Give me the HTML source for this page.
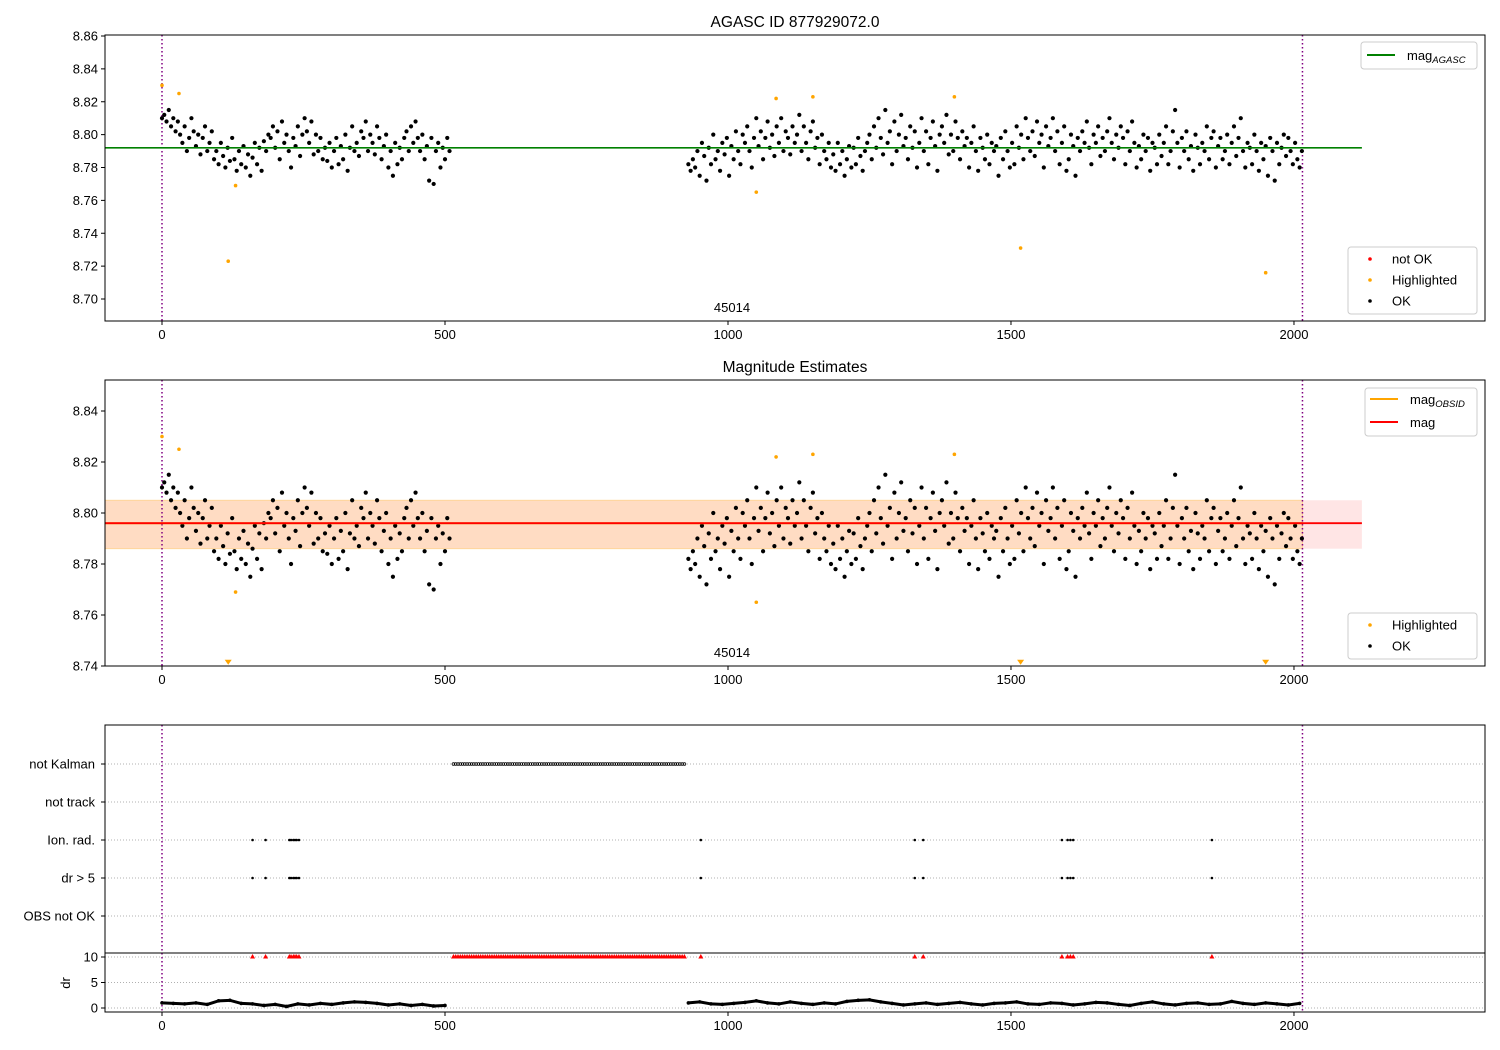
<!DOCTYPE html>
<html><head><meta charset="utf-8">
<style>
html,body{margin:0;padding:0;background:#fff;}
svg{display:block;font-family:"Liberation Sans","DejaVu Sans",sans-serif;}
</style></head>
<body>
<svg id="fig" width="1500" height="1050" viewBox="0 0 1500 1050" xmlns="http://www.w3.org/2000/svg"></svg>
<script>
// ---------- DATA ----------
const seg1Range = [0, 508];
const seg2Range = [930, 2014];
const sampleStep = 4;
const magBase = 8.79;
const okMilliSeg1 = [20,22,18,25,15,20,12,18, 10,5,15,0,8,20,12,3, 10,-2,8,15,0,5,12,-5, 0,-8,5,-3,-10,2,-6,8,
 -5,-12,0,-8,3,-10,-2,-15, -4,5,-8,2,-12,6,0,10, 8,15,2,12,-5,18,5,10, 0,-10,8,3,15,-3,10,20,
 12,5,18,-2,10,0,8,-5, 2,-6,5,-10,0,8,-8,3, -5,10,-12,2,15,0,5,-3, 12,8,18,0,10,5,-2,15,
 8,-5,3,10,-10,0,-15,5, -8,2,-5,8,12,0,15,5, 18,8,0,10,-5,3,-18,8, -20,0,5,-10,2,-5,8,0];
const okMilliSeg2 = [-8,-12,-5,-10,0,-15,5,-3, -18,2,-8,10,-5,0,-12,5, -2,8,-15,3,-5,12,0,-8, 10,5,15,0,-10,8,20,3,
 12,-5,8,18,2,10,-3,15, 5,20,0,12,8,-2,15,5, 10,22,0,15,5,-5,12,18, 2,8,-8,10,0,-5,5,-10,
 -2,-12,5,-8,0,-15,-5,3, -10,2,-8,8,-3,-12,0,5, 10,-5,15,2,20,8,-2,25, 5,12,-8,18,0,10,22,3,
 8,-5,15,2,12,-10,5,20, 0,12,-8,8,18,3,-12,10, 15,5,22,-2,10,0,18,8, -5,12,3,8,-10,5,15,0,
 -12,8,2,-5,10,-8,5,0, 3,-15,8,-5,12,0,-10,5, -8,15,2,10,-5,20,8,0, 12,-3,18,5,10,-10,15,3,
 8,20,0,12,-8,5,15,-12, -5,10,3,-15,8,0,12,5, 18,2,-8,10,5,15,-3,8, 0,12,20,5,-5,10,2,15,
 8,-8,12,0,18,5,-10,3, -5,10,0,8,-12,5,2,-8, 10,-3,5,15,-8,0,12,25, 5,-10,8,0,12,-5,3,-12,
 10,2,-8,5,0,15,-5,8, 12,-10,3,8,-5,0,10,-8, 5,15,-3,8,20,0,-10,5, 2,-8,10,0,-12,5,-5,3,
 -15,8,0,-18,5,-8,2,10, -3,8,0,-8,5,-5,-10,0];
const hlTimes = [0,30,130,117,1050,1085,1150,1400,1517,1950];
const hlMags  = [8.830,8.825,8.769,8.723,8.765,8.822,8.823,8.823,8.731,8.716];
const magAgasc = 8.792;
const magObs = 8.796;
const magBandLo = 8.786, magBandHi = 8.805;
const obsStart = 0, obsEnd = 2015;
const lineEnd = 2120;
const notKalmanRange = [515, 925];
const ionTimes = [160,183,225,228,232,235,238,242,952,1330,1345,1590,1600,1605,1610,1855];
const drStep = 20;
const drSeg1 = [10,9,8,10,7,14,15,9,8,5,7,3,8,6,9,7,10,12,11,9,6,8,5,7,4,5];
const drSeg2 = [10,12,8,7,9,11,14,10,8,12,9,7,10,8,13,15,16,12,9,6,8,10,7,9,11,8,6,9,10,12,8,7,10,9,6,8,11,10,7,5,9,12,8,6,9,10,7,8,13,9,7,10,8,6,9];
const xTicks = [0,500,1000,1500,2000];
const yTicks1 = [8.70,8.72,8.74,8.76,8.78,8.80,8.82,8.84,8.86];
const yTicks2 = [8.74,8.76,8.78,8.80,8.82,8.84];
const flagCats = ["not Kalman","not track","Ion. rad.","dr > 5","OBS not OK"];
const drTicks = [0,5,10];

// ---------- helpers ----------
const NS="http://www.w3.org/2000/svg";
const svg=document.getElementById('fig');
function mk(tag,attrs,parent){const e=document.createElementNS(NS,tag);for(const k in attrs)e.setAttribute(k,attrs[k]);(parent||svg).appendChild(e);return e;}
function txt(s,x,y,attrs,parent){const t=mk('text',Object.assign({x:x,y:y,'font-size':13,fill:'#000'},attrs||{}),parent);t.textContent=s;return t;}
const X0=105,X1=1485,XMIN=-100.7,XMAX=2337.5;
const sx=v=>X0+(v-XMIN)/(XMAX-XMIN)*(X1-X0);
function lin(d0,d1,r0,r1){return v=>r0+(v-d0)/(d1-d0)*(r1-r0);}
function range(a,b,s){const r=[];for(let t=a;t<=b;t+=s)r.push(t);return r;}
const okTimes=range(seg1Range[0],seg1Range[1],sampleStep).concat(range(seg2Range[0],seg2Range[1],sampleStep));
const okMags=okMilliSeg1.concat(okMilliSeg2).map(v=>magBase+v/1000);
const DOT=2.1;

function xAxis(g,yb,labels){
  xTicks.forEach(t=>{
    const l=mk('line',{x1:sx(t),x2:sx(t),y1:yb,y2:yb+4,stroke:'#000'},g);
    
    
    if(labels){const tl=txt(String(t),sx(t),yb+18,{'text-anchor':'middle'},g);
      
      }
  });
}
function yAxis(g,ticks,sy,fmt){
  ticks.forEach(t=>{
    mk('line',{x1:X0-4,x2:X0,y1:sy(t),y2:sy(t),stroke:'#000'},g);
    const tl=txt(fmt(t),X0-7,sy(t)+4.5,{'text-anchor':'end'},g);
    
    
  });
}
function vlines(g,yt,yb){
  [obsStart,obsEnd].forEach(t=>{
    const l=mk('line',{x1:sx(t),x2:sx(t),y1:yt,y2:yb,stroke:'#800080','stroke-width':1.5,'stroke-dasharray':'1.5,2.5'},g);
    
    
  });
}
function dots(g,ts,vs,sy,color,r,name){
  ts.forEach((t,i)=>{
    const c=mk('circle',{cx:sx(t),cy:sy(vs[i]),r:r,fill:color},g);
    
    
  });
}
function frame(g,yt,yb){mk('rect',{x:X0,y:yt,width:X1-X0,height:yb-yt,fill:'none',stroke:'#000','stroke-width':1},g);}
function legendBox(g,x,y,w,h){mk('rect',{x:x,y:y,width:w,height:h,rx:3,fill:'#fff','fill-opacity':0.8,stroke:'#ccc'},g);}

// ---------- Panel 1 ----------
(function(){
  const g=mk('g',{});
  const yt=35,yb=321;
  const sy=lin(8.70,8.86,299,36);
  const t=txt('AGASC ID 877929072.0',795,27,{'text-anchor':'middle','font-size':15.5},g);
  
  const cp=mk('clipPath',{id:'c1'},g);mk('rect',{x:X0,y:yt,width:X1-X0,height:yb-yt},cp);
  const pg=mk('g',{'clip-path':'url(#c1)'},g);
  vlines(pg,yt,yb);
  dots(pg,okTimes,okMags,sy,'#000',DOT,'ok-point');
  dots(pg,hlTimes,hlMags,sy,'orange',1.8,'highlighted-point');
  const ml=mk('line',{x1:sx(XMIN),x2:sx(lineEnd),y1:sy(magAgasc),y2:sy(magAgasc),stroke:'green','stroke-width':1.6},pg);
  
  txt('45014',732,312,{'text-anchor':'middle'},g);
  frame(g,yt,yb);xAxis(g,yb,true);yAxis(g,yTicks1,sy,v=>v.toFixed(2));
  const lg=mk('g',{},g);
  legendBox(lg,1361,42,116,27);
  mk('line',{x1:1367,x2:1395,y1:55,y2:55,stroke:'green','stroke-width':2},lg);
  const le=txt('mag',1407,60,{},lg);const s=mk('tspan',{'font-size':9.5,dy:3},le);s.textContent='AGASC';
  s.setAttribute('font-style','italic');
  const lg2=mk('g',{},g);
  legendBox(lg2,1348,247,129,67);
  [['not OK','red',259],['Highlighted','orange',280],['OK','#000',301]].forEach(e=>{
    mk('circle',{cx:1370,cy:e[2],r:1.8,fill:e[1]},lg2);txt(e[0],1392,e[2]+4.5,{},lg2);
  });
})();

// ---------- Panel 2 ----------
(function(){
  const g=mk('g',{});
  const yt=380,yb=666;
  const sy=lin(8.74,8.84,666,411);
  const t=txt('Magnitude Estimates',795,372,{'text-anchor':'middle','font-size':15.5},g);
  
  const cp=mk('clipPath',{id:'c2'},g);mk('rect',{x:X0,y:yt,width:X1-X0,height:yb-yt},cp);
  const pg=mk('g',{'clip-path':'url(#c2)'},g);
  const b1=mk('rect',{x:sx(XMIN),y:sy(magBandHi),width:sx(lineEnd)-sx(XMIN),height:sy(magBandLo)-sy(magBandHi),fill:'red','fill-opacity':0.1},pg);
  
  const b2=mk('rect',{x:sx(XMIN),y:sy(magBandHi),width:sx(obsEnd)-sx(XMIN),height:sy(magBandLo)-sy(magBandHi),fill:'orange','fill-opacity':0.15,stroke:'orange','stroke-opacity':0.3},pg);
  
  vlines(pg,yt,yb);
  dots(pg,okTimes,okMags,sy,'#000',DOT,'ok-point');
  const hv=[],ht=[],lowT=[];
  hlTimes.forEach((tt,i)=>{if(hlMags[i]>=8.74){ht.push(tt);hv.push(hlMags[i]);}else lowT.push(tt);});
  dots(pg,ht,hv,sy,'orange',1.8,'highlighted-point');
  lowT.forEach(tt=>{const p=mk('path',{d:`M${sx(tt)-3.5},${sy(8.7405)-5}h7l-3.5,5z`,fill:'orange'},pg);
    });
  const ol=mk('line',{x1:sx(XMIN),x2:sx(obsEnd),y1:sy(magObs),y2:sy(magObs),stroke:'orange','stroke-width':2},pg);
  
  const rl=mk('line',{x1:sx(XMIN),x2:sx(lineEnd),y1:sy(magObs),y2:sy(magObs),stroke:'red','stroke-width':1.8},pg);
  
  txt('45014',732,657,{'text-anchor':'middle'},g);
  frame(g,yt,yb);xAxis(g,yb,true);yAxis(g,yTicks2,sy,v=>v.toFixed(2));
  const lg=mk('g',{},g);
  legendBox(lg,1365,388,112,48);
  mk('line',{x1:1370,x2:1398,y1:399,y2:399,stroke:'orange','stroke-width':2},lg);
  const le=txt('mag',1410,404,{},lg);const s=mk('tspan',{'font-size':9.5,dy:3,'font-style':'italic'},le);s.textContent='OBSID';
  mk('line',{x1:1370,x2:1398,y1:422,y2:422,stroke:'red','stroke-width':2},lg);
  txt('mag',1410,427,{},lg);
  const lg2=mk('g',{},g);
  legendBox(lg2,1348,613,129,46);
  [['Highlighted','orange',625],['OK','#000',646]].forEach(e=>{
    mk('circle',{cx:1370,cy:e[2],r:1.8,fill:e[1]},lg2);txt(e[0],1392,e[2]+4.5,{},lg2);
  });
})();

// ---------- Panel 3 ----------
(function(){
  const g=mk('g',{});
  const yt=725,ym=953,yb=1012;
  const catY=i=>764+i*38;
  flagCats.forEach((c,i)=>{
    mk('line',{x1:X0,x2:X1,y1:catY(i),y2:catY(i),stroke:'#b0b0b0','stroke-dasharray':'1,2'},g);
    const tl=txt(c,95,catY(i)+4.5,{'text-anchor':'end'},g);
    
    mk('line',{x1:X0-4,x2:X0,y1:catY(i),y2:catY(i),stroke:'#000'},g);
  });
  const sdr=lin(0,10,1008,957);
  drTicks.forEach(t=>mk('line',{x1:X0,x2:X1,y1:sdr(t),y2:sdr(t),stroke:'#b0b0b0','stroke-dasharray':'1,2'},g));
  const cp=mk('clipPath',{id:'c3'},g);mk('rect',{x:X0,y:yt,width:X1-X0,height:yb-yt},cp);
  const pg=mk('g',{'clip-path':'url(#c3)'},g);
  vlines(pg,yt,yb);
  const nk=range(notKalmanRange[0],notKalmanRange[1],sampleStep);
  nk.forEach(t=>{const c=mk('circle',{cx:sx(t),cy:catY(0),r:1.4,fill:'none',stroke:'#000','stroke-width':0.8},pg);
    });
  ionTimes.forEach(t=>{[2,3].forEach(i=>{const c=mk('circle',{cx:sx(t),cy:catY(i),r:1.3,fill:'#000'},pg);
    });});
  const drT1=range(seg1Range[0],seg1Range[0]+drStep*(drSeg1.length-1),drStep);
  const drT2=range(seg2Range[0],seg2Range[0]+drStep*(drSeg2.length-1),drStep);
  [[drT1,drSeg1],[drT2,drSeg2]].forEach(([ts,vs])=>{
    const p=mk('polyline',{points:ts.map((t,i)=>sx(t)+','+sdr(vs[i]/10)).join(' '),fill:'none',stroke:'#000','stroke-width':3},pg);
    
    dots(pg,ts,vs.map(v=>v/10),sdr,'#000',1.8,'dr-point');
  });
  nk.concat(ionTimes).forEach(t=>{const p=mk('path',{d:`M${sx(t)},${sdr(10)-3}l2.5,4.5h-5z`,fill:'red'},pg);
    });
  mk('rect',{x:X0,y:yt,width:X1-X0,height:ym-yt,fill:'none',stroke:'#000'},g);
  mk('rect',{x:X0,y:ym,width:X1-X0,height:yb-ym,fill:'none',stroke:'#000'},g);
  drTicks.forEach(t=>{mk('line',{x1:X0-4,x2:X0,y1:sdr(t),y2:sdr(t),stroke:'#000'},g);
    const tl=txt(String(t),X0-7,sdr(t)+4.5,{'text-anchor':'end'},g);
    });
  const yl=txt('dr',70,983,{'text-anchor':'middle',transform:'rotate(-90 70 983)'},g);
  
  xAxis(g,yb,true);
})();
</script>
</body></html>
